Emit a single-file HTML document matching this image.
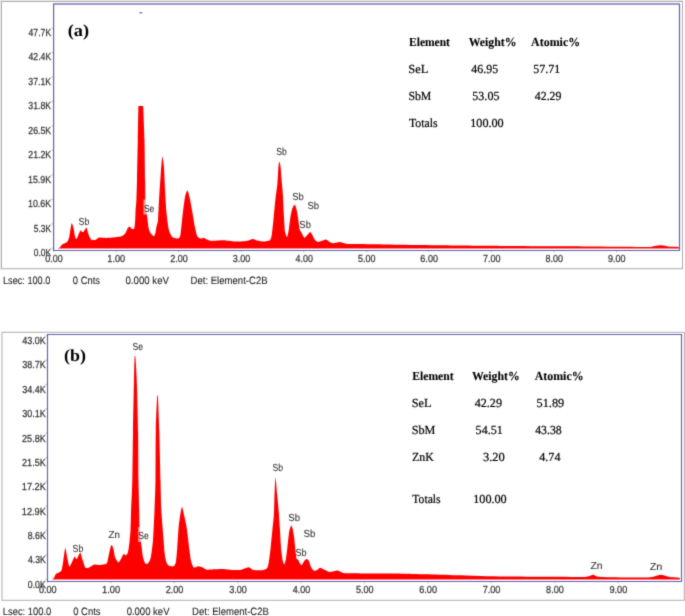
<!DOCTYPE html>
<html><head><meta charset="utf-8"><style>
html,body{margin:0;padding:0;background:#fff;width:685px;height:616px;overflow:hidden;}
svg{display:block;text-rendering:geometricPrecision;}
</style></head><body>
<svg width="685" height="616" viewBox="0 0 685 616">
<defs><filter id="bl" x="0" y="0" width="685" height="616" filterUnits="userSpaceOnUse" color-interpolation-filters="sRGB"><feConvolveMatrix order="3" kernelMatrix="0.01917 0.10012 0.01917 0.10012 0.52283 0.10012 0.01917 0.10012 0.01917" edgeMode="duplicate" preserveAlpha="true"/></filter></defs>
<g filter="url(#bl)">
<rect width="685" height="616" fill="#fff"/>
<rect x="0" y="0" width="684" height="1" fill="#ebebe7"/>
<rect x="0" y="0" width="1" height="270" fill="#ebebe7"/>
<rect x="1.5" y="1.5" width="681.0" height="267.2" fill="none" stroke="#adadad" stroke-width="1"/>
<path d="M57.5,248.6 L59.5,247.8 C60.00,247.36 61.02,245.46 61.7,244.9 C62.38,244.34 64.50,243.52 65.2,243.1 C65.90,242.68 67.01,242.17 67.5,241.4 C67.99,240.63 68.81,238.87 69.3,236.7 C69.79,234.53 71.11,224.42 71.6,223.3 C72.09,223.30 72.98,225.79 73.4,227.4 C73.82,229.01 74.72,235.31 75.1,236.7 C75.48,238.09 76.18,239.00 76.6,239.0 C77.02,238.71 78.12,235.34 78.6,234.3 C79.08,233.26 80.18,230.58 80.6,230.3 C81.02,230.30 81.70,231.87 82.1,232.0 C82.50,232.00 83.38,231.93 83.9,231.4 C84.42,230.87 85.85,227.60 86.4,227.6 C86.95,227.95 87.89,232.81 88.5,234.3 C89.11,235.79 90.66,239.32 91.5,240.0 C92.34,240.00 94.60,240.00 95.5,240.0 C96.40,239.71 97.74,237.84 99.0,237.6 C100.26,237.60 104.03,238.00 106.0,238.0 C107.97,237.96 113.48,237.54 115.4,237.3 C117.32,237.06 120.79,236.52 122.0,236.0 C123.21,235.48 124.84,233.90 125.5,233.0 C126.16,232.10 127.01,229.28 127.5,228.5 C127.99,227.72 129.04,226.50 129.6,226.5 C130.16,226.57 131.64,228.92 132.2,229.1 C132.76,229.10 133.94,229.09 134.3,228.0 C134.66,226.91 135.04,222.16 135.2,220.0 C135.36,217.84 135.46,212.40 135.6,210.0 C135.74,207.60 136.23,203.60 136.4,200.0 C136.57,196.40 136.83,187.20 137.0,180.0 C137.17,172.80 137.63,148.88 137.8,140.0 C137.97,131.12 138.40,106.00 138.4,106.0 C138.40,106.00 143.20,106.00 143.2,106.0 C143.20,106.00 144.27,131.12 144.5,140.0 C144.73,148.88 144.99,172.80 145.1,180.0 C145.21,187.20 145.26,196.16 145.4,200.0 C145.54,203.84 146.11,210.20 146.3,212.0 C146.49,213.80 146.72,213.08 147.0,215.0 C147.28,216.92 148.18,225.84 148.6,228.0 C149.02,230.16 149.94,232.04 150.5,233.0 C151.06,233.96 152.76,235.82 153.3,236.0 C153.84,236.00 154.62,235.64 155.0,234.5 C155.38,233.36 156.14,228.24 156.5,226.5 C156.86,224.76 157.69,223.34 158.0,220.0 C158.31,216.66 158.78,204.17 159.1,198.7 C159.42,193.23 160.32,179.46 160.7,174.4 C161.08,169.34 161.92,157.48 162.3,156.5 C162.68,156.50 163.56,162.11 163.9,166.2 C164.24,170.29 164.80,185.14 165.1,190.6 C165.40,196.06 165.96,207.03 166.4,211.7 C166.84,216.37 168.13,226.49 168.8,229.5 C169.47,232.51 171.03,235.72 172.0,236.8 C172.97,237.88 175.92,238.50 176.9,238.5 C177.88,238.40 179.52,238.50 180.2,236.0 C180.88,233.18 182.02,219.68 182.6,215.0 C183.18,210.32 184.41,199.93 185.0,197.0 C185.59,194.07 186.91,190.60 187.5,190.6 C188.09,190.80 189.32,196.17 189.9,198.7 C190.48,201.23 191.71,208.39 192.3,211.7 C192.89,215.01 194.21,223.38 194.8,226.3 C195.39,229.22 196.52,234.54 197.2,236.0 C197.88,237.46 199.67,238.26 200.5,238.5 C201.33,238.50 203.32,238.00 204.1,238.0 C204.88,238.12 206.09,239.15 207.0,239.5 C207.91,239.85 209.73,240.80 211.7,240.9 C213.67,240.90 220.60,240.30 223.4,240.3 C226.20,240.37 232.20,241.43 235.0,241.5 C237.80,241.50 244.59,241.21 246.7,240.9 C248.81,240.59 251.34,238.94 252.6,238.9 C253.86,238.90 256.08,240.29 257.2,240.6 C258.32,240.91 260.96,241.40 261.9,241.5 C262.84,241.50 264.03,241.50 265.0,241.4 C265.97,241.24 269.18,241.02 270.0,240.2 C270.82,239.38 271.36,237.36 271.8,234.6 C272.24,231.84 273.26,221.52 273.7,217.2 C274.14,212.88 275.06,202.62 275.5,198.6 C275.94,194.58 277.05,187.49 277.4,183.7 C277.75,179.91 278.17,169.68 278.4,167.0 C278.63,164.32 279.04,161.40 279.3,161.4 C279.56,161.40 280.32,164.77 280.6,167.0 C280.88,169.23 281.32,176.65 281.6,180.0 C281.88,183.35 282.61,190.44 282.9,194.9 C283.19,199.36 283.74,212.74 284.0,217.2 C284.26,221.66 284.73,229.71 285.1,232.1 C285.47,234.49 286.66,237.10 287.1,237.1 C287.54,236.80 288.40,231.99 288.8,229.6 C289.20,227.21 289.98,219.73 290.4,217.2 C290.82,214.67 291.77,209.99 292.3,208.5 C292.83,207.01 294.28,204.80 294.8,204.8 C295.32,204.96 296.18,208.01 296.6,209.8 C297.02,211.59 297.93,217.32 298.3,219.7 C298.67,222.08 299.35,228.11 299.7,229.6 C300.05,231.09 300.83,231.43 301.2,232.1 C301.57,232.77 302.38,234.53 302.8,235.2 C303.22,235.87 304.10,237.70 304.7,237.7 C305.30,237.63 307.13,235.27 307.8,234.6 C308.47,233.93 309.78,232.10 310.3,232.1 C310.82,232.10 311.58,233.70 312.1,234.6 C312.62,235.50 313.93,238.71 314.6,239.6 C315.27,240.49 316.80,241.86 317.7,242.0 C318.60,242.00 321.13,241.09 322.1,240.8 C323.07,240.51 324.98,239.60 325.8,239.6 C326.62,239.67 328.01,240.96 328.9,241.4 C329.79,241.84 331.94,243.23 333.2,243.3 C334.46,243.30 338.06,242.00 339.4,242.0 C340.74,242.00 343.13,243.05 344.4,243.3 C345.67,243.55 346.47,243.98 350.0,244.1 C353.53,244.22 365.70,244.18 373.8,244.3 C381.90,244.42 404.76,244.92 417.5,245.1 C430.24,245.28 462.42,245.66 480.0,245.8 C497.58,245.94 544.14,246.16 564.0,246.3 C583.86,246.44 634.94,246.98 645.5,247.0 C656.06,247.00 650.26,246.70 652.0,246.5 C653.74,246.30 658.32,245.37 660.0,245.3 C661.68,245.30 664.68,245.72 666.0,245.9 C667.32,246.08 669.48,246.67 671.0,246.8 C672.52,246.93 677.74,246.80 678.7,247.0 L679.0,248.6 Z" fill="#ff0000"/>
<path d="M53.6,4 V250.5 H679.5 V4" fill="none" stroke="#6060b2" stroke-width="1.2"/>
<line x1="53" y1="4" x2="680" y2="4" stroke="#6060b2" stroke-width="1.7" stroke-opacity="0.85"/>
<line x1="51.5" y1="248.30" x2="53.5" y2="248.30" stroke="#6060b2" stroke-width="0.8" stroke-opacity="0.6"/>
<line x1="51.5" y1="223.83" x2="53.5" y2="223.83" stroke="#6060b2" stroke-width="0.8" stroke-opacity="0.6"/>
<line x1="51.5" y1="199.36" x2="53.5" y2="199.36" stroke="#6060b2" stroke-width="0.8" stroke-opacity="0.6"/>
<line x1="51.5" y1="174.89" x2="53.5" y2="174.89" stroke="#6060b2" stroke-width="0.8" stroke-opacity="0.6"/>
<line x1="51.5" y1="150.42" x2="53.5" y2="150.42" stroke="#6060b2" stroke-width="0.8" stroke-opacity="0.6"/>
<line x1="51.5" y1="125.95" x2="53.5" y2="125.95" stroke="#6060b2" stroke-width="0.8" stroke-opacity="0.6"/>
<line x1="51.5" y1="101.48" x2="53.5" y2="101.48" stroke="#6060b2" stroke-width="0.8" stroke-opacity="0.6"/>
<line x1="51.5" y1="77.01" x2="53.5" y2="77.01" stroke="#6060b2" stroke-width="0.8" stroke-opacity="0.6"/>
<line x1="51.5" y1="52.54" x2="53.5" y2="52.54" stroke="#6060b2" stroke-width="0.8" stroke-opacity="0.6"/>
<line x1="51.5" y1="28.07" x2="53.5" y2="28.07" stroke="#6060b2" stroke-width="0.8" stroke-opacity="0.6"/>
<line x1="53.50" y1="250" x2="53.50" y2="252" stroke="#6060b2" stroke-width="0.8" stroke-opacity="0.6"/>
<line x1="116.05" y1="250" x2="116.05" y2="252" stroke="#6060b2" stroke-width="0.8" stroke-opacity="0.6"/>
<line x1="178.60" y1="250" x2="178.60" y2="252" stroke="#6060b2" stroke-width="0.8" stroke-opacity="0.6"/>
<line x1="241.15" y1="250" x2="241.15" y2="252" stroke="#6060b2" stroke-width="0.8" stroke-opacity="0.6"/>
<line x1="303.70" y1="250" x2="303.70" y2="252" stroke="#6060b2" stroke-width="0.8" stroke-opacity="0.6"/>
<line x1="366.25" y1="250" x2="366.25" y2="252" stroke="#6060b2" stroke-width="0.8" stroke-opacity="0.6"/>
<line x1="428.80" y1="250" x2="428.80" y2="252" stroke="#6060b2" stroke-width="0.8" stroke-opacity="0.6"/>
<line x1="491.35" y1="250" x2="491.35" y2="252" stroke="#6060b2" stroke-width="0.8" stroke-opacity="0.6"/>
<line x1="553.90" y1="250" x2="553.90" y2="252" stroke="#6060b2" stroke-width="0.8" stroke-opacity="0.6"/>
<line x1="616.45" y1="250" x2="616.45" y2="252" stroke="#6060b2" stroke-width="0.8" stroke-opacity="0.6"/>
<text transform="translate(33.77,256.10) scale(0.8305,1)" font-family='"Liberation Sans", sans-serif' font-size="10.2" font-weight="normal" fill="#333333" stroke="#333333" stroke-width="0.25" stroke-linejoin="round">0.0K</text>
<text transform="translate(33.76,231.63) scale(0.8309,1)" font-family='"Liberation Sans", sans-serif' font-size="10.2" font-weight="normal" fill="#333333" stroke="#333333" stroke-width="0.25" stroke-linejoin="round">5.3K</text>
<text transform="translate(28.02,207.16) scale(0.8694,1)" font-family='"Liberation Sans", sans-serif' font-size="10.2" font-weight="normal" fill="#333333" stroke="#333333" stroke-width="0.25" stroke-linejoin="round">10.6K</text>
<text transform="translate(28.02,182.69) scale(0.8694,1)" font-family='"Liberation Sans", sans-serif' font-size="10.2" font-weight="normal" fill="#333333" stroke="#333333" stroke-width="0.25" stroke-linejoin="round">15.9K</text>
<text transform="translate(28.26,158.22) scale(0.8606,1)" font-family='"Liberation Sans", sans-serif' font-size="10.2" font-weight="normal" fill="#333333" stroke="#333333" stroke-width="0.25" stroke-linejoin="round">21.2K</text>
<text transform="translate(28.26,133.75) scale(0.8606,1)" font-family='"Liberation Sans", sans-serif' font-size="10.2" font-weight="normal" fill="#333333" stroke="#333333" stroke-width="0.25" stroke-linejoin="round">26.5K</text>
<text transform="translate(28.37,109.28) scale(0.8565,1)" font-family='"Liberation Sans", sans-serif' font-size="10.2" font-weight="normal" fill="#333333" stroke="#333333" stroke-width="0.25" stroke-linejoin="round">31.8K</text>
<text transform="translate(28.37,84.81) scale(0.8565,1)" font-family='"Liberation Sans", sans-serif' font-size="10.2" font-weight="normal" fill="#333333" stroke="#333333" stroke-width="0.25" stroke-linejoin="round">37.1K</text>
<text transform="translate(28.50,60.34) scale(0.8515,1)" font-family='"Liberation Sans", sans-serif' font-size="10.2" font-weight="normal" fill="#333333" stroke="#333333" stroke-width="0.25" stroke-linejoin="round">42.4K</text>
<text transform="translate(28.50,35.87) scale(0.8515,1)" font-family='"Liberation Sans", sans-serif' font-size="10.2" font-weight="normal" fill="#333333" stroke="#333333" stroke-width="0.25" stroke-linejoin="round">47.7K</text>
<text transform="translate(45.15,261.90) scale(0.8816,1)" font-family='"Liberation Sans", sans-serif' font-size="10.2" font-weight="normal" fill="#333333" stroke="#333333" stroke-width="0.25" stroke-linejoin="round">0.00</text>
<text transform="translate(107.35,261.90) scale(0.8995,1)" font-family='"Liberation Sans", sans-serif' font-size="10.2" font-weight="normal" fill="#333333" stroke="#333333" stroke-width="0.25" stroke-linejoin="round">1.00</text>
<text transform="translate(170.14,261.90) scale(0.8870,1)" font-family='"Liberation Sans", sans-serif' font-size="10.2" font-weight="normal" fill="#333333" stroke="#333333" stroke-width="0.25" stroke-linejoin="round">2.00</text>
<text transform="translate(232.81,261.90) scale(0.8812,1)" font-family='"Liberation Sans", sans-serif' font-size="10.2" font-weight="normal" fill="#333333" stroke="#333333" stroke-width="0.25" stroke-linejoin="round">3.00</text>
<text transform="translate(295.50,261.90) scale(0.8741,1)" font-family='"Liberation Sans", sans-serif' font-size="10.2" font-weight="normal" fill="#333333" stroke="#333333" stroke-width="0.25" stroke-linejoin="round">4.00</text>
<text transform="translate(357.89,261.90) scale(0.8821,1)" font-family='"Liberation Sans", sans-serif' font-size="10.2" font-weight="normal" fill="#333333" stroke="#333333" stroke-width="0.25" stroke-linejoin="round">5.00</text>
<text transform="translate(420.34,261.90) scale(0.8872,1)" font-family='"Liberation Sans", sans-serif' font-size="10.2" font-weight="normal" fill="#333333" stroke="#333333" stroke-width="0.25" stroke-linejoin="round">6.00</text>
<text transform="translate(482.89,261.90) scale(0.8874,1)" font-family='"Liberation Sans", sans-serif' font-size="10.2" font-weight="normal" fill="#333333" stroke="#333333" stroke-width="0.25" stroke-linejoin="round">7.00</text>
<text transform="translate(545.51,261.90) scale(0.8837,1)" font-family='"Liberation Sans", sans-serif' font-size="10.2" font-weight="normal" fill="#333333" stroke="#333333" stroke-width="0.25" stroke-linejoin="round">8.00</text>
<text transform="translate(608.03,261.90) scale(0.8853,1)" font-family='"Liberation Sans", sans-serif' font-size="10.2" font-weight="normal" fill="#333333" stroke="#333333" stroke-width="0.25" stroke-linejoin="round">9.00</text>
<rect x="143.5" y="199.5" width="11" height="15" fill="#ffffff" fill-opacity="0.62"/>
<text transform="translate(78.60,225.00) scale(0.8718,1)" font-family='"Liberation Sans", sans-serif' font-size="10.2" font-weight="normal" fill="#333333" stroke="#333333" stroke-width="0.1" stroke-linejoin="round">Sb</text>
<text transform="translate(144.02,211.70) scale(0.8218,1)" font-family='"Liberation Sans", sans-serif' font-size="10.2" font-weight="normal" fill="#333333" stroke="#333333" stroke-width="0.1" stroke-linejoin="round">Se</text>
<text transform="translate(276.21,155.20) scale(0.8460,1)" font-family='"Liberation Sans", sans-serif' font-size="10.2" font-weight="normal" fill="#333333" stroke="#333333" stroke-width="0.1" stroke-linejoin="round">Sb</text>
<text transform="translate(292.27,199.80) scale(0.9236,1)" font-family='"Liberation Sans", sans-serif' font-size="10.2" font-weight="normal" fill="#333333" stroke="#333333" stroke-width="0.1" stroke-linejoin="round">Sb</text>
<text transform="translate(307.47,208.75) scale(0.9236,1)" font-family='"Liberation Sans", sans-serif' font-size="10.2" font-weight="normal" fill="#333333" stroke="#333333" stroke-width="0.1" stroke-linejoin="round">Sb</text>
<text transform="translate(299.37,228.40) scale(0.9236,1)" font-family='"Liberation Sans", sans-serif' font-size="10.2" font-weight="normal" fill="#333333" stroke="#333333" stroke-width="0.1" stroke-linejoin="round">Sb</text>
<rect x="139.2" y="12.2" width="3.2" height="1.2" fill="#777"/>
<text transform="translate(67.69,35.90) scale(1.0803,1)" font-family='"Liberation Serif", serif' font-size="17" font-weight="bold" fill="#000">(a)</text>
<text transform="translate(409.00,46.00) scale(0.9365,1)" font-family='"Liberation Serif", serif' font-size="12.3" font-weight="bold" fill="#000" stroke="#000" stroke-width="0.1" stroke-linejoin="round">Element</text>
<text transform="translate(468.63,46.00) scale(0.9586,1)" font-family='"Liberation Serif", serif' font-size="12.3" font-weight="bold" fill="#000" stroke="#000" stroke-width="0.1" stroke-linejoin="round">Weight%</text>
<text transform="translate(531.08,46.00) scale(0.9700,1)" font-family='"Liberation Serif", serif' font-size="12.3" font-weight="bold" fill="#000" stroke="#000" stroke-width="0.1" stroke-linejoin="round">Atomic%</text>
<text transform="translate(408.37,72.60) scale(1.0136,1)" font-family='"Liberation Serif", serif' font-size="12.3" font-weight="normal" fill="#000" stroke="#000" stroke-width="0.22" stroke-linejoin="round">SeL</text>
<text transform="translate(471.37,72.60) scale(0.9646,1)" font-family='"Liberation Serif", serif' font-size="12.3" font-weight="normal" fill="#000" stroke="#000" stroke-width="0.22" stroke-linejoin="round">46.95</text>
<text transform="translate(533.30,72.60) scale(0.9725,1)" font-family='"Liberation Serif", serif' font-size="12.3" font-weight="normal" fill="#000" stroke="#000" stroke-width="0.22" stroke-linejoin="round">57.71</text>
<text transform="translate(408.41,99.60) scale(0.9585,1)" font-family='"Liberation Serif", serif' font-size="12.3" font-weight="normal" fill="#000" stroke="#000" stroke-width="0.22" stroke-linejoin="round">SbM</text>
<text transform="translate(472.30,99.60) scale(0.9819,1)" font-family='"Liberation Serif", serif' font-size="12.3" font-weight="normal" fill="#000" stroke="#000" stroke-width="0.22" stroke-linejoin="round">53.05</text>
<text transform="translate(534.77,99.60) scale(0.9655,1)" font-family='"Liberation Serif", serif' font-size="12.3" font-weight="normal" fill="#000" stroke="#000" stroke-width="0.22" stroke-linejoin="round">42.29</text>
<text transform="translate(408.99,126.60) scale(0.9575,1)" font-family='"Liberation Serif", serif' font-size="12.3" font-weight="normal" fill="#000" stroke="#000" stroke-width="0.22" stroke-linejoin="round">Totals</text>
<text transform="translate(470.23,126.60) scale(0.9884,1)" font-family='"Liberation Serif", serif' font-size="12.3" font-weight="normal" fill="#000" stroke="#000" stroke-width="0.22" stroke-linejoin="round">100.00</text>
<text transform="translate(2.95,284.20) scale(0.8651,1)" font-family='"Liberation Sans", sans-serif' font-size="10.6" font-weight="normal" fill="#222" stroke="#222" stroke-width="0.08" stroke-linejoin="round">Lsec: 100.0</text>
<text transform="translate(72.83,284.20) scale(0.8881,1)" font-family='"Liberation Sans", sans-serif' font-size="10.6" font-weight="normal" fill="#222" stroke="#222" stroke-width="0.08" stroke-linejoin="round">0 Cnts</text>
<text transform="translate(125.42,284.20) scale(0.9138,1)" font-family='"Liberation Sans", sans-serif' font-size="10.6" font-weight="normal" fill="#222" stroke="#222" stroke-width="0.08" stroke-linejoin="round">0.000 keV</text>
<text transform="translate(190.51,284.20) scale(0.9037,1)" font-family='"Liberation Sans", sans-serif' font-size="10.6" font-weight="normal" fill="#222" stroke="#222" stroke-width="0.08" stroke-linejoin="round">Det: Element-C2B</text>
<rect x="2.0" y="332.3" width="682.3" height="267.99999999999994" fill="none" stroke="#adadad" stroke-width="1"/>
<path d="M52.0,579.4 L53.8,578.2 C54.24,577.59 55.12,574.97 55.7,574.3 C56.28,573.63 57.90,573.09 58.6,572.6 C59.30,572.11 60.94,571.60 61.5,570.2 C62.06,568.80 62.84,563.56 63.3,560.9 C63.76,558.24 64.81,548.29 65.3,548.0 C65.79,548.00 66.90,556.26 67.4,558.5 C67.90,560.74 68.95,566.28 69.5,566.7 C70.05,566.70 71.39,563.19 72.0,562.0 C72.61,560.81 74.04,557.15 74.6,556.8 C75.16,556.80 76.03,559.10 76.7,559.1 C77.37,558.61 79.50,552.70 80.2,552.7 C80.90,552.77 81.86,557.88 82.5,559.7 C83.14,561.52 84.79,566.92 85.5,567.9 C86.21,567.90 87.36,567.90 88.4,567.9 C89.44,567.48 92.81,564.75 94.2,564.4 C95.59,564.40 98.60,565.00 100.0,565.0 C101.40,564.96 104.99,564.59 105.9,564.1 C106.81,563.61 107.11,562.69 107.6,560.9 C108.09,559.11 109.51,551.10 110.0,549.2 C110.49,547.30 111.28,545.10 111.7,545.1 C112.12,545.10 113.08,547.72 113.5,549.2 C113.92,550.68 114.59,555.83 115.2,557.4 C115.81,558.97 117.82,562.30 118.6,562.3 C119.38,562.30 121.08,558.42 121.7,557.4 C122.32,556.38 123.36,554.04 123.8,553.8 C124.24,553.80 124.93,555.40 125.4,555.4 C125.87,555.30 127.24,554.30 127.7,553.0 C128.16,551.70 128.86,547.36 129.2,544.6 C129.54,541.84 130.27,534.15 130.5,530.0 C130.73,525.85 130.88,516.00 131.1,510.0 C131.32,504.00 132.07,489.36 132.3,480.0 C132.53,470.64 132.81,443.56 133.0,432.0 C133.19,420.44 133.71,392.80 133.9,383.7 C134.09,374.60 134.42,359.50 134.6,356.2 C134.78,356.20 135.12,356.20 135.4,356.2 C135.68,359.50 136.58,374.60 136.9,383.7 C137.22,392.80 137.91,420.44 138.1,432.0 C138.29,443.56 138.37,470.64 138.5,480.0 C138.63,489.36 139.06,504.00 139.2,510.0 C139.34,516.00 139.42,525.68 139.7,530.0 C139.98,534.32 141.10,542.76 141.5,546.0 C141.90,549.24 142.53,554.86 143.0,557.0 C143.47,559.14 144.84,562.98 145.4,563.8 C145.96,563.80 147.15,563.80 147.7,563.8 C148.25,563.34 149.58,561.06 150.0,560.0 C150.42,558.94 150.84,557.40 151.2,555.0 C151.56,552.60 152.60,545.40 153.0,540.0 C153.40,534.60 154.20,517.20 154.5,510.0 C154.80,502.80 155.34,489.60 155.5,480.0 C155.66,470.40 155.60,440.14 155.8,430.0 C156.00,419.86 156.95,399.64 157.2,395.5 C157.45,395.50 157.65,395.50 157.9,395.5 C158.15,399.64 158.99,419.86 159.3,430.0 C159.61,440.14 160.26,470.40 160.5,480.0 C160.74,489.60 160.98,503.40 161.3,510.0 C161.62,516.60 162.82,529.96 163.2,535.0 C163.58,540.04 164.16,548.88 164.5,552.0 C164.84,555.12 165.54,559.38 166.0,561.0 C166.46,562.62 167.58,564.88 168.3,565.5 C169.02,566.12 171.34,566.12 172.0,566.2 C172.66,566.20 173.33,566.20 173.8,566.2 C174.27,565.71 175.49,564.25 175.9,562.1 C176.31,559.95 176.88,552.44 177.2,548.3 C177.52,544.16 178.22,531.74 178.6,527.6 C178.98,523.46 179.98,516.28 180.4,513.8 C180.82,511.32 181.66,506.90 182.1,506.9 C182.54,507.07 183.61,513.05 184.1,515.2 C184.59,517.35 185.78,522.48 186.2,524.8 C186.62,527.12 187.24,531.68 187.6,534.5 C187.96,537.32 188.79,545.16 189.2,548.3 C189.61,551.44 190.45,558.38 191.0,560.7 C191.55,563.02 192.89,566.94 193.8,567.6 C194.71,567.60 197.52,566.20 198.6,566.2 C199.68,566.20 201.80,567.18 202.8,567.6 C203.80,568.02 205.41,569.51 206.9,569.7 C208.39,569.70 213.22,569.28 215.2,569.2 C217.18,569.12 221.42,569.00 223.4,569.0 C225.38,569.08 229.71,569.77 231.7,569.9 C233.69,570.03 237.95,570.10 240.0,570.1 C242.05,569.79 247.22,567.30 248.8,567.3 C250.38,567.30 251.62,569.75 253.2,570.1 C254.78,570.20 260.34,570.20 262.0,570.2 C263.66,569.98 266.18,569.27 267.0,568.3 C267.82,567.33 268.36,564.63 268.8,562.1 C269.24,559.57 270.26,551.22 270.7,547.2 C271.14,543.18 272.13,532.32 272.5,528.6 C272.87,524.88 273.57,519.63 273.8,516.2 C274.03,512.77 274.20,504.66 274.4,500.0 C274.60,495.34 275.16,478.00 275.5,477.4 C275.84,477.40 276.83,491.09 277.2,495.0 C277.57,498.91 278.28,505.97 278.6,510.0 C278.92,514.03 279.61,524.14 279.9,528.6 C280.19,533.06 280.69,543.48 281.0,547.2 C281.31,550.92 282.13,557.51 282.5,559.6 C282.87,561.69 283.70,564.60 284.1,564.6 C284.50,564.60 285.40,561.69 285.8,559.6 C286.20,557.51 286.98,550.62 287.4,547.2 C287.82,543.78 288.83,533.70 289.3,531.1 C289.77,528.50 290.87,525.64 291.3,525.5 C291.73,525.50 292.56,528.48 292.9,529.9 C293.24,531.32 293.80,534.92 294.1,537.3 C294.40,539.68 295.11,547.17 295.4,549.7 C295.69,552.23 296.19,557.21 296.5,558.4 C296.81,559.59 297.60,559.01 298.0,559.6 C298.40,560.19 299.36,562.63 299.8,563.3 C300.24,563.97 301.17,565.20 301.7,565.2 C302.23,564.91 303.60,561.64 304.2,560.9 C304.80,560.16 306.14,559.00 306.7,559.0 C307.26,559.00 308.38,559.93 308.9,560.9 C309.42,561.87 310.38,565.91 311.0,567.1 C311.62,568.29 313.43,570.43 314.1,570.8 C314.77,570.80 315.86,570.57 316.6,570.2 C317.34,569.83 319.41,567.77 320.3,567.7 C321.19,567.70 322.96,569.08 324.0,569.6 C325.04,570.12 327.96,571.78 329.0,572.0 C330.04,572.00 331.66,571.58 332.7,571.4 C333.74,571.22 336.66,570.50 337.7,570.5 C338.74,570.57 340.28,571.66 341.4,572.0 C342.52,572.34 340.77,573.11 347.0,573.3 C353.23,573.49 381.07,573.40 393.3,573.6 C405.53,573.80 436.10,574.66 448.9,575.0 C461.70,575.34 484.47,576.17 500.0,576.4 C515.53,576.63 567.74,576.90 578.3,576.9 C588.86,576.90 586.16,576.66 588.0,576.4 C589.84,576.14 592.10,574.70 593.6,574.7 C595.10,574.76 594.00,576.56 600.5,576.9 C607.00,577.24 640.62,577.50 647.8,577.5 C654.98,577.24 657.64,574.77 660.3,574.7 C662.96,574.70 667.67,576.53 670.0,576.9 C672.33,577.27 678.50,577.50 679.7,577.8 L680.0,579.4 Z" fill="#ff0000"/>
<path d="M47.5,334.5 V581.5 H681.5 V334.5 Z" fill="none" stroke="#6060b2" stroke-width="1.15"/>
<line x1="45.5" y1="579.30" x2="47.5" y2="579.30" stroke="#6060b2" stroke-width="0.8" stroke-opacity="0.6"/>
<line x1="45.5" y1="554.94" x2="47.5" y2="554.94" stroke="#6060b2" stroke-width="0.8" stroke-opacity="0.6"/>
<line x1="45.5" y1="530.58" x2="47.5" y2="530.58" stroke="#6060b2" stroke-width="0.8" stroke-opacity="0.6"/>
<line x1="45.5" y1="506.22" x2="47.5" y2="506.22" stroke="#6060b2" stroke-width="0.8" stroke-opacity="0.6"/>
<line x1="45.5" y1="481.86" x2="47.5" y2="481.86" stroke="#6060b2" stroke-width="0.8" stroke-opacity="0.6"/>
<line x1="45.5" y1="457.50" x2="47.5" y2="457.50" stroke="#6060b2" stroke-width="0.8" stroke-opacity="0.6"/>
<line x1="45.5" y1="433.14" x2="47.5" y2="433.14" stroke="#6060b2" stroke-width="0.8" stroke-opacity="0.6"/>
<line x1="45.5" y1="408.78" x2="47.5" y2="408.78" stroke="#6060b2" stroke-width="0.8" stroke-opacity="0.6"/>
<line x1="45.5" y1="384.42" x2="47.5" y2="384.42" stroke="#6060b2" stroke-width="0.8" stroke-opacity="0.6"/>
<line x1="45.5" y1="360.06" x2="47.5" y2="360.06" stroke="#6060b2" stroke-width="0.8" stroke-opacity="0.6"/>
<line x1="45.5" y1="335.70" x2="47.5" y2="335.70" stroke="#6060b2" stroke-width="0.8" stroke-opacity="0.6"/>
<line x1="47.50" y1="581" x2="47.50" y2="583" stroke="#6060b2" stroke-width="0.8" stroke-opacity="0.6"/>
<line x1="110.90" y1="581" x2="110.90" y2="583" stroke="#6060b2" stroke-width="0.8" stroke-opacity="0.6"/>
<line x1="174.30" y1="581" x2="174.30" y2="583" stroke="#6060b2" stroke-width="0.8" stroke-opacity="0.6"/>
<line x1="237.70" y1="581" x2="237.70" y2="583" stroke="#6060b2" stroke-width="0.8" stroke-opacity="0.6"/>
<line x1="301.10" y1="581" x2="301.10" y2="583" stroke="#6060b2" stroke-width="0.8" stroke-opacity="0.6"/>
<line x1="364.50" y1="581" x2="364.50" y2="583" stroke="#6060b2" stroke-width="0.8" stroke-opacity="0.6"/>
<line x1="427.90" y1="581" x2="427.90" y2="583" stroke="#6060b2" stroke-width="0.8" stroke-opacity="0.6"/>
<line x1="491.30" y1="581" x2="491.30" y2="583" stroke="#6060b2" stroke-width="0.8" stroke-opacity="0.6"/>
<line x1="554.70" y1="581" x2="554.70" y2="583" stroke="#6060b2" stroke-width="0.8" stroke-opacity="0.6"/>
<line x1="618.10" y1="581" x2="618.10" y2="583" stroke="#6060b2" stroke-width="0.8" stroke-opacity="0.6"/>
<text transform="translate(27.76,587.70) scale(0.8598,1)" font-family='"Liberation Sans", sans-serif' font-size="10.2" font-weight="normal" fill="#333333" stroke="#333333" stroke-width="0.25" stroke-linejoin="round">0.0K</text>
<text transform="translate(27.90,563.34) scale(0.8530,1)" font-family='"Liberation Sans", sans-serif' font-size="10.2" font-weight="normal" fill="#333333" stroke="#333333" stroke-width="0.25" stroke-linejoin="round">4.3K</text>
<text transform="translate(27.72,538.98) scale(0.8617,1)" font-family='"Liberation Sans", sans-serif' font-size="10.2" font-weight="normal" fill="#333333" stroke="#333333" stroke-width="0.25" stroke-linejoin="round">8.6K</text>
<text transform="translate(21.80,514.62) scale(0.9005,1)" font-family='"Liberation Sans", sans-serif' font-size="10.2" font-weight="normal" fill="#333333" stroke="#333333" stroke-width="0.25" stroke-linejoin="round">12.9K</text>
<text transform="translate(21.80,490.26) scale(0.9005,1)" font-family='"Liberation Sans", sans-serif' font-size="10.2" font-weight="normal" fill="#333333" stroke="#333333" stroke-width="0.25" stroke-linejoin="round">17.2K</text>
<text transform="translate(22.04,465.90) scale(0.8914,1)" font-family='"Liberation Sans", sans-serif' font-size="10.2" font-weight="normal" fill="#333333" stroke="#333333" stroke-width="0.25" stroke-linejoin="round">21.5K</text>
<text transform="translate(22.04,441.54) scale(0.8914,1)" font-family='"Liberation Sans", sans-serif' font-size="10.2" font-weight="normal" fill="#333333" stroke="#333333" stroke-width="0.25" stroke-linejoin="round">25.8K</text>
<text transform="translate(22.16,417.18) scale(0.8871,1)" font-family='"Liberation Sans", sans-serif' font-size="10.2" font-weight="normal" fill="#333333" stroke="#333333" stroke-width="0.25" stroke-linejoin="round">30.1K</text>
<text transform="translate(22.16,392.82) scale(0.8871,1)" font-family='"Liberation Sans", sans-serif' font-size="10.2" font-weight="normal" fill="#333333" stroke="#333333" stroke-width="0.25" stroke-linejoin="round">34.4K</text>
<text transform="translate(22.16,368.46) scale(0.8871,1)" font-family='"Liberation Sans", sans-serif' font-size="10.2" font-weight="normal" fill="#333333" stroke="#333333" stroke-width="0.25" stroke-linejoin="round">38.7K</text>
<text transform="translate(22.29,343.90) scale(0.8819,1)" font-family='"Liberation Sans", sans-serif' font-size="10.2" font-weight="normal" fill="#333333" stroke="#333333" stroke-width="0.25" stroke-linejoin="round">43.0K</text>
<text transform="translate(38.94,593.30) scale(0.8921,1)" font-family='"Liberation Sans", sans-serif' font-size="10.2" font-weight="normal" fill="#333333" stroke="#333333" stroke-width="0.25" stroke-linejoin="round">0.00</text>
<text transform="translate(101.99,593.30) scale(0.9102,1)" font-family='"Liberation Sans", sans-serif' font-size="10.2" font-weight="normal" fill="#333333" stroke="#333333" stroke-width="0.25" stroke-linejoin="round">1.00</text>
<text transform="translate(165.64,593.30) scale(0.8975,1)" font-family='"Liberation Sans", sans-serif' font-size="10.2" font-weight="normal" fill="#333333" stroke="#333333" stroke-width="0.25" stroke-linejoin="round">2.00</text>
<text transform="translate(229.15,593.30) scale(0.8917,1)" font-family='"Liberation Sans", sans-serif' font-size="10.2" font-weight="normal" fill="#333333" stroke="#333333" stroke-width="0.25" stroke-linejoin="round">3.00</text>
<text transform="translate(292.69,593.30) scale(0.8845,1)" font-family='"Liberation Sans", sans-serif' font-size="10.2" font-weight="normal" fill="#333333" stroke="#333333" stroke-width="0.25" stroke-linejoin="round">4.00</text>
<text transform="translate(355.94,593.30) scale(0.8926,1)" font-family='"Liberation Sans", sans-serif' font-size="10.2" font-weight="normal" fill="#333333" stroke="#333333" stroke-width="0.25" stroke-linejoin="round">5.00</text>
<text transform="translate(419.23,593.30) scale(0.8978,1)" font-family='"Liberation Sans", sans-serif' font-size="10.2" font-weight="normal" fill="#333333" stroke="#333333" stroke-width="0.25" stroke-linejoin="round">6.00</text>
<text transform="translate(482.63,593.30) scale(0.8980,1)" font-family='"Liberation Sans", sans-serif' font-size="10.2" font-weight="normal" fill="#333333" stroke="#333333" stroke-width="0.25" stroke-linejoin="round">7.00</text>
<text transform="translate(546.10,593.30) scale(0.8942,1)" font-family='"Liberation Sans", sans-serif' font-size="10.2" font-weight="normal" fill="#333333" stroke="#333333" stroke-width="0.25" stroke-linejoin="round">8.00</text>
<text transform="translate(609.47,593.30) scale(0.8959,1)" font-family='"Liberation Sans", sans-serif' font-size="10.2" font-weight="normal" fill="#333333" stroke="#333333" stroke-width="0.25" stroke-linejoin="round">9.00</text>
<rect x="138.2" y="527" width="11.5" height="15" fill="#ffffff" fill-opacity="0.62"/>
<text transform="translate(72.60,552.00) scale(0.8718,1)" font-family='"Liberation Sans", sans-serif' font-size="10.2" font-weight="normal" fill="#333333" stroke="#333333" stroke-width="0.1" stroke-linejoin="round">Sb</text>
<text transform="translate(108.49,538.00) scale(0.9618,1)" font-family='"Liberation Sans", sans-serif' font-size="10.2" font-weight="normal" fill="#333333" stroke="#333333" stroke-width="0.1" stroke-linejoin="round">Zn</text>
<text transform="translate(132.51,349.60) scale(0.8391,1)" font-family='"Liberation Sans", sans-serif' font-size="10.2" font-weight="normal" fill="#333333" stroke="#333333" stroke-width="0.1" stroke-linejoin="round">Se</text>
<text transform="translate(138.31,539.20) scale(0.8478,1)" font-family='"Liberation Sans", sans-serif' font-size="10.2" font-weight="normal" fill="#333333" stroke="#333333" stroke-width="0.1" stroke-linejoin="round">Se</text>
<text transform="translate(272.51,470.80) scale(0.8460,1)" font-family='"Liberation Sans", sans-serif' font-size="10.2" font-weight="normal" fill="#333333" stroke="#333333" stroke-width="0.1" stroke-linejoin="round">Sb</text>
<text transform="translate(288.26,521.20) scale(0.9409,1)" font-family='"Liberation Sans", sans-serif' font-size="10.2" font-weight="normal" fill="#333333" stroke="#333333" stroke-width="0.1" stroke-linejoin="round">Sb</text>
<text transform="translate(303.56,536.60) scale(0.9495,1)" font-family='"Liberation Sans", sans-serif' font-size="10.2" font-weight="normal" fill="#333333" stroke="#333333" stroke-width="0.1" stroke-linejoin="round">Sb</text>
<text transform="translate(295.49,556.30) scale(0.8891,1)" font-family='"Liberation Sans", sans-serif' font-size="10.2" font-weight="normal" fill="#333333" stroke="#333333" stroke-width="0.1" stroke-linejoin="round">Sb</text>
<text transform="translate(590.47,568.60) scale(1.0167,1)" font-family='"Liberation Sans", sans-serif' font-size="10.2" font-weight="normal" fill="#333333" stroke="#333333" stroke-width="0.1" stroke-linejoin="round">Zn</text>
<text transform="translate(649.65,570.00) scale(1.0717,1)" font-family='"Liberation Sans", sans-serif' font-size="10.2" font-weight="normal" fill="#333333" stroke="#333333" stroke-width="0.1" stroke-linejoin="round">Zn</text>
<text transform="translate(64.01,360.90) scale(1.0579,1)" font-family='"Liberation Serif", serif' font-size="17" font-weight="bold" fill="#000">(b)</text>
<text transform="translate(412.30,380.20) scale(0.9434,1)" font-family='"Liberation Serif", serif' font-size="12.3" font-weight="bold" fill="#000" stroke="#000" stroke-width="0.1" stroke-linejoin="round">Element</text>
<text transform="translate(471.93,380.20) scale(0.9586,1)" font-family='"Liberation Serif", serif' font-size="12.3" font-weight="bold" fill="#000" stroke="#000" stroke-width="0.1" stroke-linejoin="round">Weight%</text>
<text transform="translate(534.68,380.20) scale(0.9680,1)" font-family='"Liberation Serif", serif' font-size="12.3" font-weight="bold" fill="#000" stroke="#000" stroke-width="0.1" stroke-linejoin="round">Atomic%</text>
<text transform="translate(411.68,407.40) scale(1.0026,1)" font-family='"Liberation Serif", serif' font-size="12.3" font-weight="normal" fill="#000" stroke="#000" stroke-width="0.22" stroke-linejoin="round">SeL</text>
<text transform="translate(474.66,407.40) scale(0.9877,1)" font-family='"Liberation Serif", serif' font-size="12.3" font-weight="normal" fill="#000" stroke="#000" stroke-width="0.22" stroke-linejoin="round">42.29</text>
<text transform="translate(536.59,407.40) scale(0.9979,1)" font-family='"Liberation Serif", serif' font-size="12.3" font-weight="normal" fill="#000" stroke="#000" stroke-width="0.22" stroke-linejoin="round">51.89</text>
<text transform="translate(411.69,434.40) scale(0.9893,1)" font-family='"Liberation Serif", serif' font-size="12.3" font-weight="normal" fill="#000" stroke="#000" stroke-width="0.22" stroke-linejoin="round">SbM</text>
<text transform="translate(475.60,434.40) scale(0.9839,1)" font-family='"Liberation Serif", serif' font-size="12.3" font-weight="normal" fill="#000" stroke="#000" stroke-width="0.22" stroke-linejoin="round">54.51</text>
<text transform="translate(535.17,434.40) scale(0.9567,1)" font-family='"Liberation Serif", serif' font-size="12.3" font-weight="normal" fill="#000" stroke="#000" stroke-width="0.22" stroke-linejoin="round">43.38</text>
<text transform="translate(411.93,461.00) scale(0.9665,1)" font-family='"Liberation Serif", serif' font-size="12.3" font-weight="normal" fill="#000" stroke="#000" stroke-width="0.22" stroke-linejoin="round">ZnK</text>
<text transform="translate(482.90,461.00) scale(1.0162,1)" font-family='"Liberation Serif", serif' font-size="12.3" font-weight="normal" fill="#000" stroke="#000" stroke-width="0.22" stroke-linejoin="round">3.20</text>
<text transform="translate(539.26,461.00) scale(0.9861,1)" font-family='"Liberation Serif", serif' font-size="12.3" font-weight="normal" fill="#000" stroke="#000" stroke-width="0.22" stroke-linejoin="round">4.74</text>
<text transform="translate(412.29,503.00) scale(0.9476,1)" font-family='"Liberation Serif", serif' font-size="12.3" font-weight="normal" fill="#000" stroke="#000" stroke-width="0.22" stroke-linejoin="round">Totals</text>
<text transform="translate(473.23,503.00) scale(0.9884,1)" font-family='"Liberation Serif", serif' font-size="12.3" font-weight="normal" fill="#000" stroke="#000" stroke-width="0.22" stroke-linejoin="round">100.00</text>
<text transform="translate(2.73,615.20) scale(0.8875,1)" font-family='"Liberation Sans", sans-serif' font-size="10.6" font-weight="normal" fill="#222" stroke="#222" stroke-width="0.08" stroke-linejoin="round">Lsec: 100.0</text>
<text transform="translate(73.23,615.20) scale(0.8915,1)" font-family='"Liberation Sans", sans-serif' font-size="10.6" font-weight="normal" fill="#222" stroke="#222" stroke-width="0.08" stroke-linejoin="round">0 Cnts</text>
<text transform="translate(126.63,615.20) scale(0.8990,1)" font-family='"Liberation Sans", sans-serif' font-size="10.6" font-weight="normal" fill="#222" stroke="#222" stroke-width="0.08" stroke-linejoin="round">0.000 keV</text>
<text transform="translate(192.12,615.20) scale(0.8989,1)" font-family='"Liberation Sans", sans-serif' font-size="10.6" font-weight="normal" fill="#222" stroke="#222" stroke-width="0.08" stroke-linejoin="round">Det: Element-C2B</text>
</g>
</svg>
</body></html>
